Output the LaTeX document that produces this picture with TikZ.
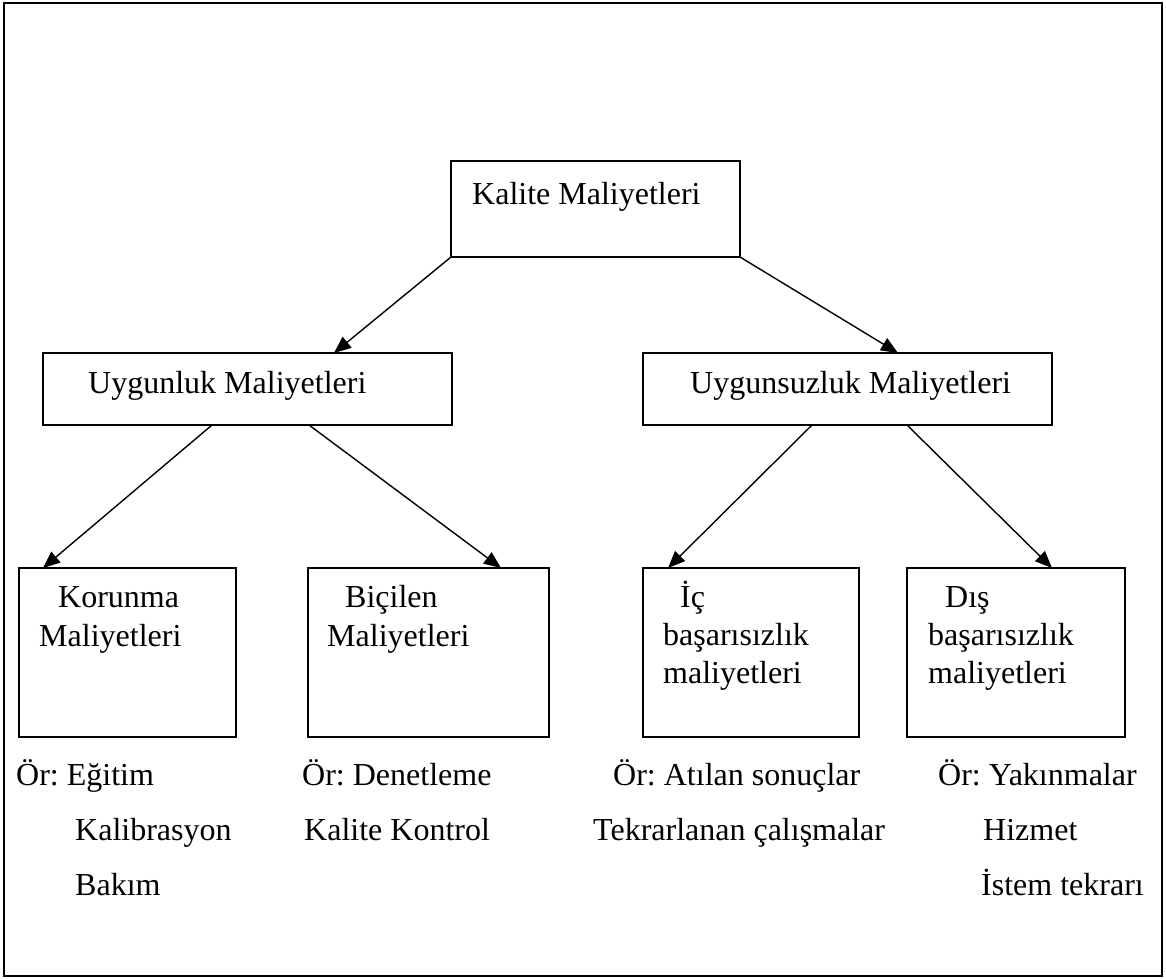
\documentclass[tikz,border=0pt]{standalone}
\usepackage{fontspec}
\setmainfont{Liberation Serif}
\usetikzlibrary{arrows.meta}
\begin{document}
\frenchspacing
\begin{tikzpicture}[x=1pt,y=-1pt,
  box/.style={draw, line width=1.8pt, inner sep=0pt, outer sep=0pt, anchor=north west},
  conn/.style={line width=1.4pt, -{Triangle[length=17pt,width=14pt]}},
  lbl/.style={anchor=base west, inner sep=0pt, font=\fontsize{32}{38}\selectfont}]
\useasboundingbox (0,0) rectangle (1166,978);
% outer frame
\draw[line width=2.2pt] (4,3) rectangle (1162,976);

% boxes
\node[box, minimum width=289pt, minimum height=96pt] (k) at (451,161) {};
\node[box, minimum width=409pt, minimum height=72pt] (u) at (43,353) {};
\node[box, minimum width=409pt, minimum height=72pt] (n) at (643,353) {};
\node[box, minimum width=217pt, minimum height=169pt] (a) at (19,568) {};
\node[box, minimum width=241pt, minimum height=169pt] (b) at (308,568) {};
\node[box, minimum width=216pt, minimum height=169pt] (c) at (643,568) {};
\node[box, minimum width=218pt, minimum height=169pt] (d) at (907,568) {};

% box texts
\node[lbl] (kt) at (472,204) {Kalite Maliyetleri};
\node[lbl] (ut) at (88,393) {Uygunluk Maliyetleri};
\node[lbl] (nt) at (690,393) {Uygunsuzluk Maliyetleri};
\node[lbl] (at1) at (58,607) {Korunma};
\node[lbl] (at2) at (39,646) {Maliyetleri};
\node[lbl] (bt1) at (345,607) {Biçilen};
\node[lbl] (bt2) at (327,646) {Maliyetleri};
\node[lbl] (ct1) at (680,607) {İç};
\node[lbl] (ct2) at (663,645) {başarısızlık};
\node[lbl] (ct3) at (663,683) {maliyetleri};
\node[lbl] (dt1) at (945,607) {Dış};
\node[lbl] (dt2) at (928,645) {başarısızlık};
\node[lbl] (dt3) at (928,683) {maliyetleri};

% examples
\node[lbl] (ea1) at (16,785) {Ör: Eğitim};
\node[lbl] (ea2) at (75,840) {Kalibrasyon};
\node[lbl] (ea3) at (75,895) {Bakım};
\node[lbl] (eb1) at (302,785) {Ör: Denetleme};
\node[lbl] (eb2) at (304,840) {Kalite Kontrol};
\node[lbl] (ec1) at (613,785) {Ör: Atılan sonuçlar};
\node[lbl] (ec2) at (593,840) {Tekrarlanan çalışmalar};
\node[lbl] (ed1) at (938,785) {Ör: Yakınmalar};
\node[lbl] (ed2) at (983,840) {Hizmet};
\node[lbl] (ed3) at (981,895) {İstem tekrarı};

% connectors
\draw[conn] (k.south west) -- ([xshift=291pt]u.north west);
\draw[conn] (k.south east) -- ([xshift=255pt]n.north west);
\draw[conn] ([xshift=169pt]u.south west) -- ([xshift=24pt]a.north west);
\draw[conn] ([xshift=266pt]u.south west) -- ([xshift=193pt]b.north west);
\draw[conn] ([xshift=169pt]n.south west) -- ([xshift=25pt]c.north west);
\draw[conn] ([xshift=264pt]n.south west) -- ([xshift=145pt]d.north west);
\end{tikzpicture}
\end{document}
